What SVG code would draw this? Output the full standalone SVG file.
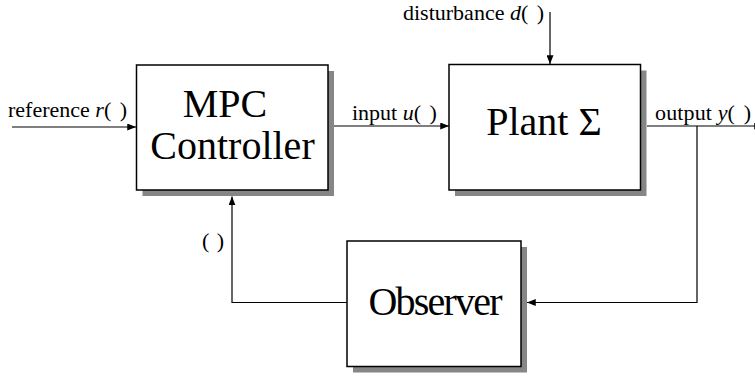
<svg xmlns="http://www.w3.org/2000/svg" width="755" height="376" viewBox="0 0 755 376">
<style>
.box{fill:#fff;stroke:#000;stroke-width:1.5}
.shadow{fill:#868686;stroke:none}
.big{font-family:"Liberation Serif","Times New Roman",serif;font-size:40px;fill:#000}
.lbl{font-family:"Liberation Serif","Times New Roman",serif;font-size:22px;fill:#000}
.it{font-style:italic}
.wire{fill:none;stroke:#000;stroke-width:1.2}
</style>
<defs>
<marker id="arr" viewBox="0 0 10 8" refX="10" refY="4" markerWidth="9" markerHeight="7" markerUnits="userSpaceOnUse" orient="auto">
<path d="M0,0 L10,4 L0,8 Z" fill="#000"/>
</marker>
</defs>
<rect width="755" height="376" fill="#fff"/>
<g id="connectors">
<line class="wire" x1="12" y1="127" x2="136" y2="127" marker-end="url(#arr)"/>
<line class="wire" x1="334" y1="126" x2="449" y2="126" marker-end="url(#arr)"/>
<line class="wire" x1="550" y1="12" x2="550" y2="64" marker-end="url(#arr)"/>
<line class="wire" x1="647" y1="126" x2="763" y2="126" marker-end="url(#arr)"/>
<polyline class="wire" points="697,126 697,302.5 527,302.5" marker-end="url(#arr)"/>
<polyline class="wire" points="347,302.5 232,302.5 232,196.5" marker-end="url(#arr)"/>
</g>
<g id="mpc">
<rect class="shadow" x="142.5" y="71" width="191.5" height="125"/>
<rect class="box" x="136.5" y="65" width="191.5" height="125"/>
<text class="big" x="225" y="116.5" text-anchor="middle">MPC</text>
<text class="big" x="232.5" y="158.5" text-anchor="middle">Controller</text>
</g>
<g id="plant">
<rect class="shadow" x="455" y="70.5" width="191.5" height="125.5"/>
<rect class="box" x="449" y="64.5" width="191.5" height="125.5"/>
<text class="big" x="544" y="135" text-anchor="middle">Plant Σ</text>
</g>
<g id="observer">
<rect class="shadow" x="353" y="247" width="174" height="125.5"/>
<rect class="box" x="347" y="241" width="174" height="125.5"/>
<text class="big" x="435.5" y="314.5" text-anchor="middle" textLength="134">Observer</text>
</g>
<g id="labels">
<text class="lbl" x="8" y="117">reference <tspan class="it">r</tspan>( <tspan dx="3">)</tspan></text>
<text class="lbl" x="403" y="20">disturbance <tspan class="it">d</tspan>( <tspan dx="3">)</tspan></text>
<text class="lbl" x="352" y="120">input <tspan class="it">u</tspan>( <tspan dx="3">)</tspan></text>
<text class="lbl" x="655" y="120" textLength="96">output <tspan class="it">y</tspan>( <tspan dx="3">)</tspan></text>
<text class="lbl" x="202" y="248">( <tspan dx="2">)</tspan></text>
</g>
</svg>
